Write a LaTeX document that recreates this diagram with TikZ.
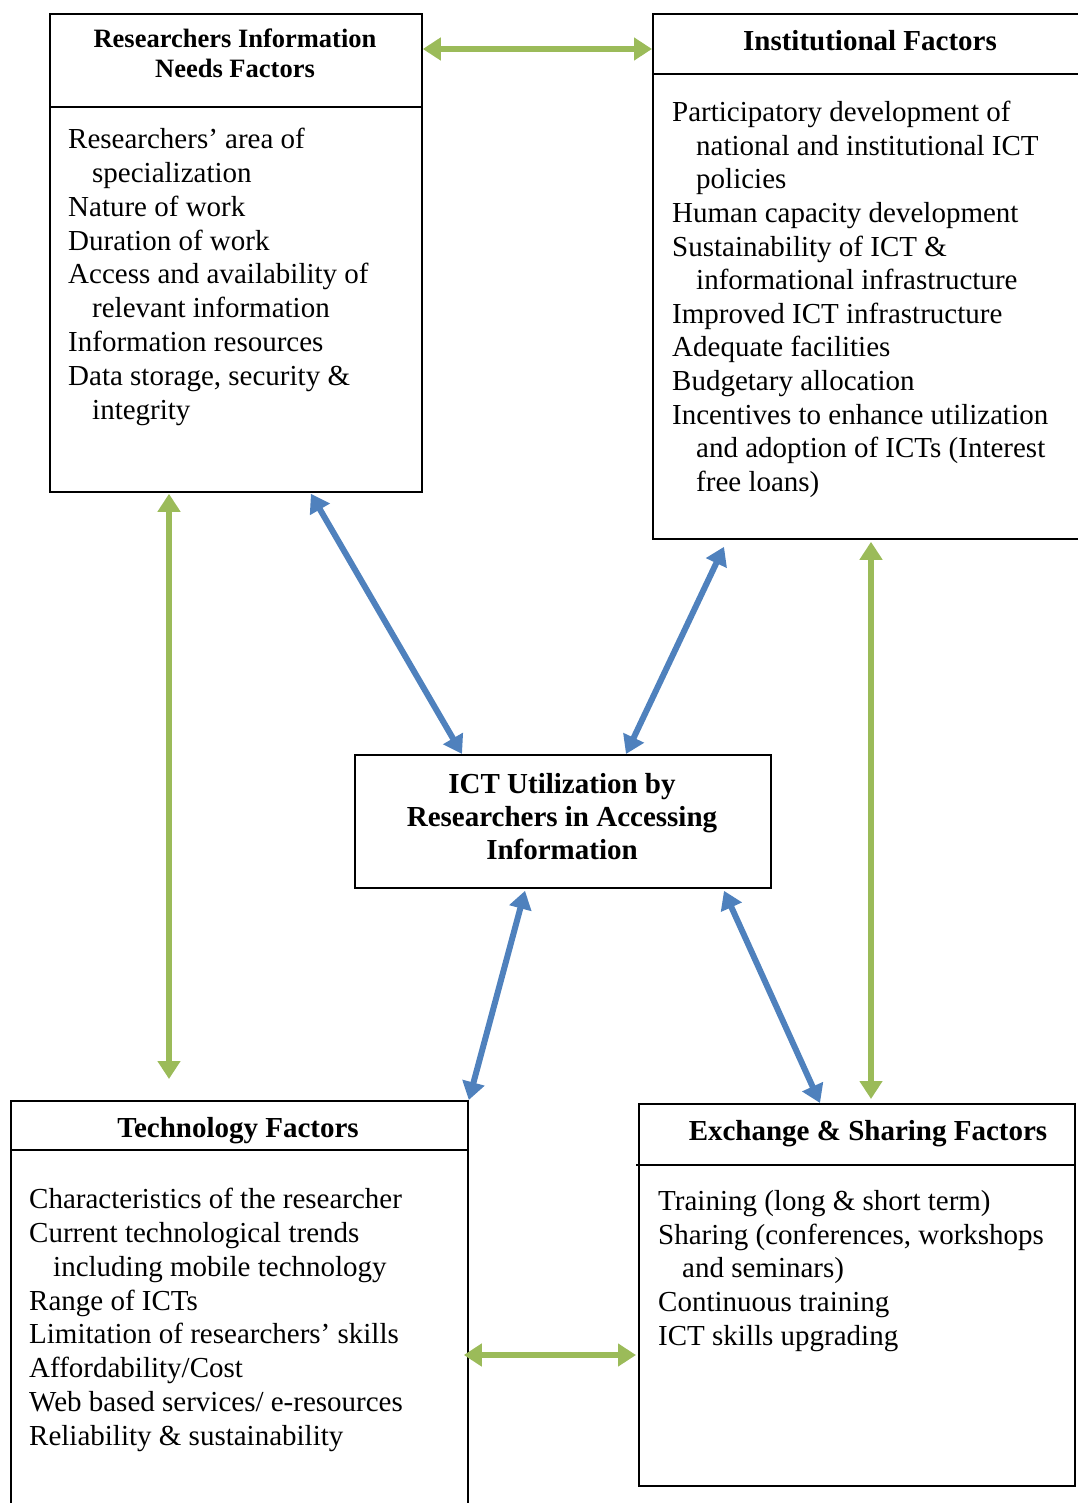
\documentclass[tikz,border=0pt]{standalone}
\usepackage{fontspec}
\setmainfont{Liberation Serif}
\usepackage{xcolor}
\usetikzlibrary{arrows.meta,positioning,calc}
\definecolor{grn}{HTML}{9BBB59}
\definecolor{blu}{HTML}{4F81BD}
\newcommand{\ind}{\hspace*{24pt}}

\begin{document}
\begin{tikzpicture}[x=1pt, y=-1pt,
  frame/.style={rectangle, draw=black, line width=1.8pt, anchor=north west, inner sep=0pt},
  rule/.style={draw=black, line width=1.8pt},
  head/.style={font=\fontsize{29}{33}\selectfont\bfseries, align=center, inner sep=0pt},
  body/.style={font=\fontsize{29}{33.8}\selectfont, align=left, anchor=north west, inner sep=0pt},
  gline/.style={draw=grn, line width=6pt, {Triangle[length=18pt,width=22pt]}-{Triangle[length=18pt,width=22pt]}},
  bline/.style={draw=blu, line width=6pt, {Triangle[length=18pt,width=22pt]}-{Triangle[length=18pt,width=22pt]}}]

  \useasboundingbox (0,0) rectangle (1077,1503);

  \node [frame, minimum width=372pt, minimum height=478pt] (rin) at (49,13) {};
  \node [frame, minimum width=430pt, minimum height=525pt] (inst) at (652,13) {};
  \node [frame, minimum width=416pt, minimum height=133pt] (ctr) at (354,754) {};
  \node [frame, minimum width=457pt, minimum height=420pt] (tech) at (10,1100) {};
  \node [frame, minimum width=436pt, minimum height=382pt] (exch) at (638,1103) {};

  \draw [rule] (rin.north west |- 0,107) -- (rin.north east |- 0,107);
  \draw [rule] (inst.north west |- 0,74) -- (inst.north east |- 0,74);
  \draw [rule] (tech.north west |- 0,1150) -- (tech.north east |- 0,1150);
  \draw [rule] (636,1165) -- (exch.north east |- 0,1165);

  \node [head, font=\fontsize{26.5}{30}\selectfont\bfseries] (rinh) at (235,53) {Researchers Information\\Needs Factors};
  \node [head] (insth) at (870,41) {Institutional Factors};
  \node [head] (ctrh) at (562,817) {ICT Utilization by\\Researchers in Accessing\\Information};
  \node [head] (techh) at (238,1131) {Technology Factors};
  \node [head] (exchh) at (868,1134) {Exchange \& Sharing Factors};

  \node [body] (rinb) at (68,128) {Researchers’ area of\\\ind specialization\\Nature of work\\Duration of work\\Access and availability of\\\ind relevant information\\Information resources\\Data storage, security \&\\\ind integrity};
  \node [body, font=\fontsize{29}{33.6}\selectfont] (instb) at (672,101) {Participatory development of\\\ind national and institutional ICT\\\ind policies\\Human capacity development\\Sustainability of ICT \&\\\ind informational infrastructure\\Improved ICT infrastructure\\Adequate facilities\\Budgetary allocation\\Incentives to enhance utilization\\\ind and adoption of ICTs (Interest\\\ind free loans)};
  \node [body] (techb) at (29,1188) {Characteristics of the researcher\\Current technological trends\\\ind including mobile technology\\Range of ICTs\\Limitation of researchers’ skills\\Affordability/Cost\\Web based services/ e-resources\\Reliability \& sustainability};
  \node [body] (exchb) at (658,1190) {Training (long \& short term)\\Sharing (conferences, workshops\\\ind and seminars)\\Continuous training\\ICT skills upgrading};

  \path [gline] ([yshift=-36pt]rin.north east) -- ([yshift=-36pt]inst.north west);
  \path [bline] ([xshift=75pt,yshift=-1pt]rin.south) -- ([xshift=108pt]ctr.north west);
  \path [bline] ([xshift=72pt,yshift=-7pt]inst.south west) -- ([xshift=272pt]ctr.north west);
  \path [gline] ([xshift=120pt,yshift=-1pt]rin.south west) -- ([xshift=159pt,yshift=21pt]tech.north west);
  \path [gline] ([xshift=219pt,yshift=-2pt]inst.south west) -- ([xshift=233pt,yshift=4pt]exch.north west);
  \path [bline] ([xshift=171pt,yshift=-2pt]ctr.south west) -- (tech.north east);
  \path [bline] ([xshift=370pt,yshift=-2pt]ctr.south west) -- ([xshift=182pt]exch.north west);
  \path [gline] ([xshift=-5pt,yshift=-255pt]tech.north east) -- ([xshift=-2pt,yshift=-252pt]exch.north west);
\end{tikzpicture}
\end{document}
